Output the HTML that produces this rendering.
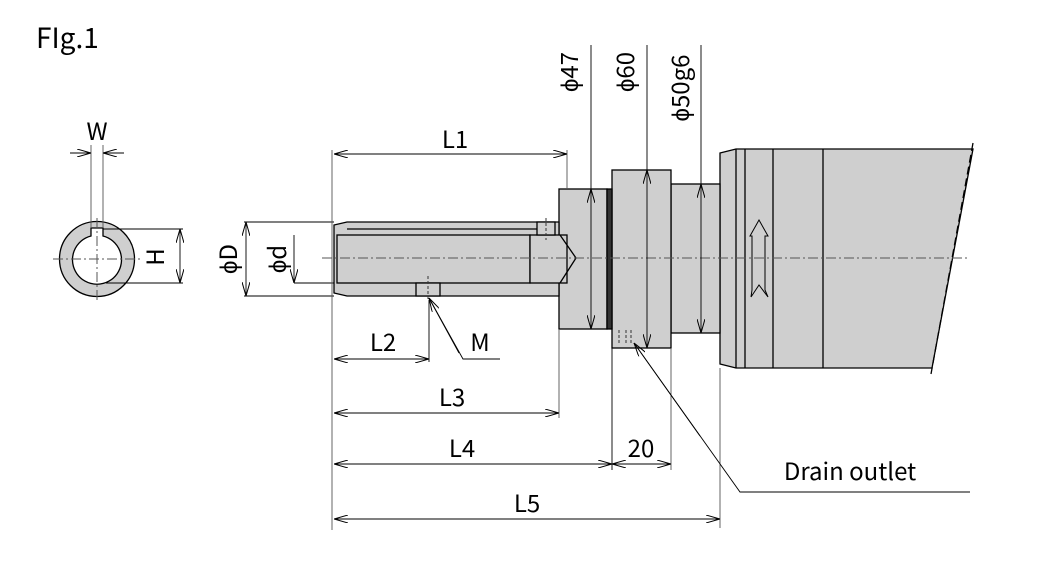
<!DOCTYPE html>
<html><head><meta charset="utf-8"><style>
html,body{margin:0;padding:0;background:#fff;}
svg{display:block;}
text{font-family:"Noto Sans CJK JP","Liberation Sans",sans-serif;fill:#000;}
</style></head><body>
<svg width="1040" height="586" viewBox="0 0 1040 586" xmlns="http://www.w3.org/2000/svg">
<defs>
<marker id="a" viewBox="0 0 14 8" refX="14" refY="4" markerWidth="14" markerHeight="8" markerUnits="userSpaceOnUse" orient="auto-start-reverse">
<path d="M0,0 L14,4 L0,8" fill="none" stroke="#000" stroke-width="1"/>
</marker>
</defs>
<text x="36" y="48" font-size="28">FIg.1</text>

<!-- end view -->
<g stroke="#000" stroke-width="1.3">
<circle cx="97" cy="259" r="37.5" fill="#cfcfcf"/>
<path d="M91,236 L91,228 L103,228 L103,236 A24.5,24.5 0 1 1 91,236 Z" fill="#fff"/>
</g>
<g stroke="#555" stroke-width="1" stroke-dasharray="10,3,2,3">
<line x1="53" y1="259" x2="140" y2="259"/>
<line x1="97" y1="218" x2="97" y2="300"/>
</g>
<g stroke="#000" stroke-width="0.9" fill="none">
<line x1="91" y1="145" x2="91" y2="228" stroke="#555"/>
<line x1="103" y1="145" x2="103" y2="228" stroke="#555"/>
<line x1="70" y1="153" x2="91" y2="153" marker-end="url(#a)"/>
<line x1="124" y1="153" x2="103" y2="153" marker-end="url(#a)"/>
<line x1="103" y1="229" x2="183" y2="229"/>
<line x1="106" y1="283" x2="183" y2="283"/>
<line x1="180" y1="229" x2="180" y2="283" marker-start="url(#a)" marker-end="url(#a)"/>
<line x1="244" y1="222" x2="334" y2="222"/>
<line x1="244" y1="296" x2="334" y2="296"/>
<line x1="246" y1="222" x2="246" y2="296" marker-start="url(#a)" marker-end="url(#a)"/>
<line x1="294" y1="283" x2="334" y2="283"/>
<line x1="294" y1="235" x2="294" y2="283" marker-end="url(#a)"/>
</g>
<text x="97" y="140" font-size="24" text-anchor="middle">W</text>
<text transform="translate(164,257) rotate(-90)" font-size="24" text-anchor="middle">H</text>
<text transform="translate(237,259) rotate(-90)" font-size="24" text-anchor="middle">ϕD</text>
<text transform="translate(286,259) rotate(-90)" font-size="24" text-anchor="middle">ϕd</text>

<!-- side view body -->
<g stroke="#000" stroke-width="1.3" fill="#cfcfcf">
<path d="M720,153 L736,149 L973,149 L932,368 L736,368 L720,364 Z"/>
<rect x="671" y="184" width="49" height="149"/>
<rect x="612" y="170" width="59" height="178"/>
<rect x="559" y="189" width="48" height="140"/>
<rect x="607" y="189" width="5" height="140" fill="#333"/>
<path d="M347,222 L559,222 L559,296 L347,296 L334,293 L334,225 Z"/>
<line x1="347" y1="229" x2="537" y2="229"/>
<rect x="337" y="235" width="193" height="48"/>
<rect x="530" y="235" width="37" height="48"/>
<rect x="537" y="222" width="18" height="13" fill="#cfcfcf"/>
<path d="M560,235 L576,258 L560,283" fill="none"/>
<rect x="416" y="283" width="24" height="13"/>
<line x1="736" y1="149" x2="736" y2="368"/>
<line x1="745" y1="149" x2="745" y2="368"/>
<line x1="773" y1="149" x2="773" y2="368"/>
<line x1="823" y1="149" x2="823" y2="368"/>
<path d="M759,220 L768,236 L765,236 L765,290 L768,297 L759,285 L751,297 L752,290 L752,236 L750,236 Z" fill="none" stroke-width="1"/>
</g>
<line x1="973" y1="143" x2="931" y2="374" stroke="#000" stroke-width="1.3" stroke-dasharray="8,4"/>
<g stroke="#555" stroke-width="1" stroke-dasharray="10,3,2,3">
<line x1="322" y1="258" x2="968" y2="258"/>
</g>
<g stroke="#333" stroke-width="1" stroke-dasharray="3,2">
<line x1="546" y1="218" x2="546" y2="240"/>
<line x1="428" y1="276" x2="428" y2="300"/>
<line x1="619" y1="330" x2="619" y2="345"/>
<line x1="626" y1="330" x2="626" y2="345"/>
<line x1="631" y1="330" x2="631" y2="345"/>
</g>

<!-- dimension lines -->
<g stroke="#000" stroke-width="0.9" fill="none">
<line x1="332" y1="150" x2="332" y2="530" stroke="#555"/>
<line x1="567" y1="150" x2="567" y2="189" stroke="#555"/>
<line x1="334" y1="154" x2="567" y2="154" marker-start="url(#a)" marker-end="url(#a)"/>
<line x1="591" y1="45" x2="591" y2="189"/>
<line x1="647" y1="45" x2="647" y2="170"/>
<line x1="701" y1="45" x2="701" y2="184"/>
<line x1="591" y1="189" x2="591" y2="329" marker-start="url(#a)" marker-end="url(#a)"/>
<line x1="647" y1="170" x2="647" y2="348" marker-start="url(#a)" marker-end="url(#a)"/>
<line x1="701" y1="184" x2="701" y2="333" marker-start="url(#a)" marker-end="url(#a)"/>
<line x1="429" y1="300" x2="429" y2="362"/>
<line x1="334" y1="359" x2="429" y2="359" marker-start="url(#a)" marker-end="url(#a)"/>
<polyline points="500,359 463,359 429,298"/>
<line x1="459" y1="353" x2="429" y2="298" marker-end="url(#a)"/>
<line x1="559" y1="329" x2="559" y2="418" stroke="#555"/>
<line x1="334" y1="413" x2="559" y2="413" marker-start="url(#a)" marker-end="url(#a)"/>
<line x1="612" y1="348" x2="612" y2="470"/>
<line x1="671" y1="348" x2="671" y2="470" stroke="#555"/>
<line x1="334" y1="464" x2="612" y2="464" marker-start="url(#a)" marker-end="url(#a)"/>
<line x1="612" y1="464" x2="671" y2="464" marker-start="url(#a)" marker-end="url(#a)"/>
<line x1="720" y1="368" x2="720" y2="528" stroke="#555"/>
<line x1="334" y1="519" x2="720" y2="519" marker-start="url(#a)" marker-end="url(#a)"/>
<polyline points="970,492 740,492 634,343"/>
<line x1="700" y1="436" x2="634" y2="343" marker-end="url(#a)"/>
</g>
<text x="455" y="148" font-size="24" text-anchor="middle">L1</text>
<text transform="translate(578,72) rotate(-90)" font-size="24" text-anchor="middle">ϕ47</text>
<text transform="translate(634,72) rotate(-90)" font-size="24" text-anchor="middle">ϕ60</text>
<text transform="translate(689,88) rotate(-90)" font-size="24" text-anchor="middle">ϕ50g6</text>
<text x="383" y="351" font-size="24" text-anchor="middle">L2</text>
<text x="480" y="351" font-size="24" text-anchor="middle">M</text>
<text x="452" y="406" font-size="24" text-anchor="middle">L3</text>
<text x="462" y="457" font-size="24" text-anchor="middle">L4</text>
<text x="641" y="457" font-size="24" text-anchor="middle">20</text>
<text x="527" y="512" font-size="24" text-anchor="middle">L5</text>
<text x="850" y="480" font-size="24" text-anchor="middle">Drain outlet</text>
</svg>
</body></html>
